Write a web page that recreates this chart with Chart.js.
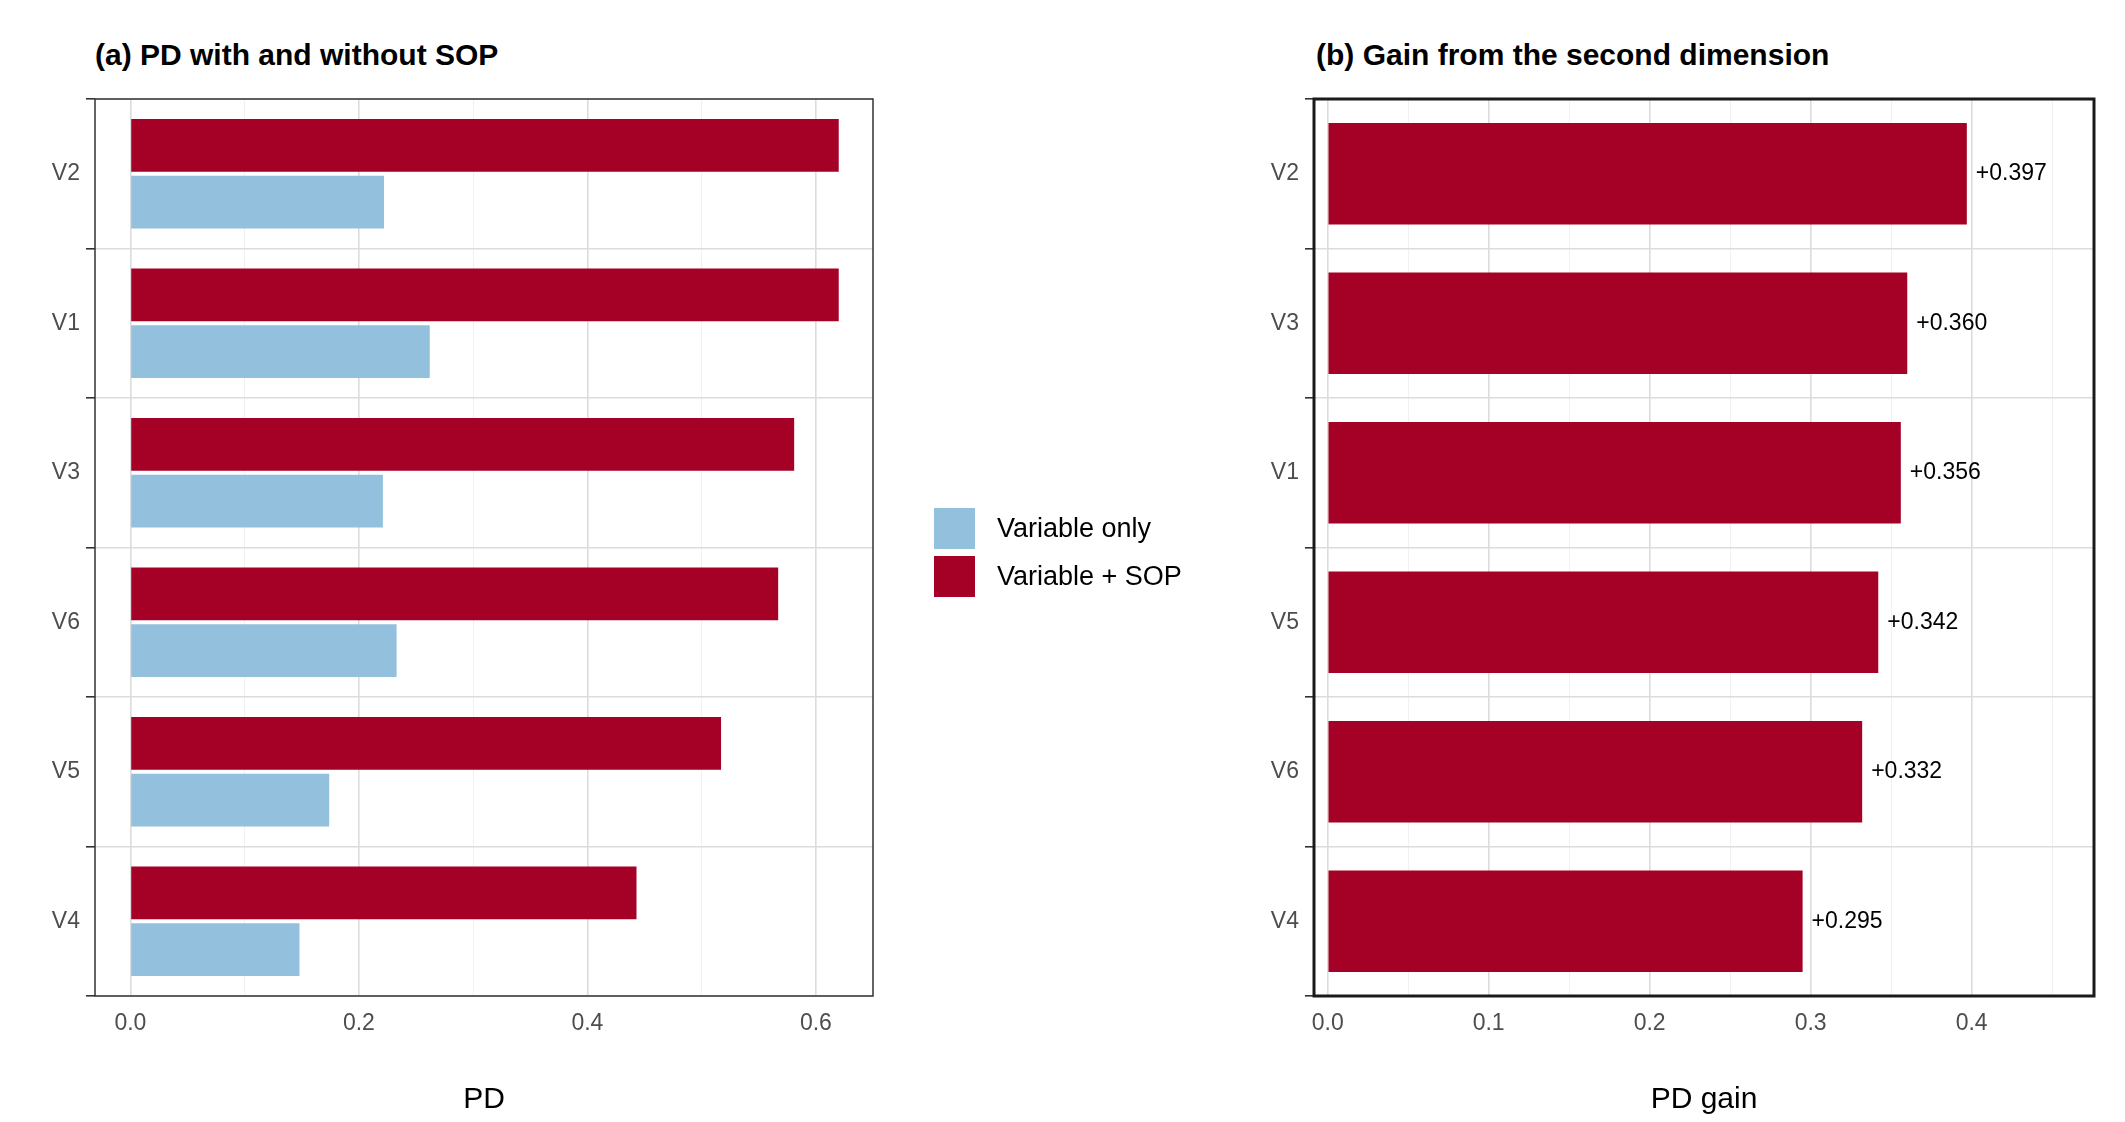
<!DOCTYPE html>
<html>
<head>
<meta charset="utf-8">
<script src="https://cdn.jsdelivr.net/npm/chart.js@4"></script>
<style>
  body { margin: 0; background: #fff; font-family: "Liberation Sans", Arial, sans-serif; }
  .wrap { position: relative; width: 2125px; height: 1122px; }
  .title { position: absolute; top: 38px; font-weight: bold; font-size: 30px; color: #000; }
  #legend { position: absolute; left: 934px; top: 504px; font-size: 27px; color: #000; }
  .item { display: flex; align-items: center; height: 48px; }
  .sw { width: 41px; height: 41px; margin-right: 22px; }
</style>
</head>
<body>
<div class="wrap">
  <div class="title" style="left:95px">(a) PD with and without SOP</div>
  <div class="title" style="left:1316px">(b) Gain from the second dimension</div>
  <div style="position:absolute;left:0;top:0;width:900px;height:1122px"><canvas id="chartA"></canvas></div>
  <div style="position:absolute;left:900px;top:0;width:1225px;height:1122px"><canvas id="chartB"></canvas></div>
  <div id="legend">
    <div class="item"><div class="sw" style="background:#92c0dd"></div>Variable only</div>
    <div class="item"><div class="sw" style="background:#a50026"></div>Variable + SOP</div>
  </div>
</div>
<script>
// panel (a) data
var varsA = ["V2", "V1", "V3", "V6", "V5", "V4"];
var pdOnly = [0.222, 0.262, 0.221, 0.233, 0.174, 0.148];
var pdSop = [0.620, 0.620, 0.581, 0.567, 0.517, 0.443];
var ticksA = [0, 0.1, 0.2, 0.3, 0.4, 0.5, 0.6];

// panel (b) data
var varsB = ["V2", "V3", "V1", "V5", "V6", "V4"];
var gain = [0.397, 0.360, 0.356, 0.342, 0.332, 0.295];
var gainLabels = ["+0.397", "+0.360", "+0.356", "+0.342", "+0.332", "+0.295"];
var ticksB = [0, 0.05, 0.1, 0.15, 0.2, 0.25, 0.3, 0.35, 0.4, 0.45];

var FONT = "'Liberation Sans', Arial, sans-serif";
var RED = "#a50026";
var BLUE = "#92c0dd";

function isMajor(v, step) {
  return Math.abs(v / step - Math.round(v / step)) < 1e-6;
}

// draws the panel border like ggplot's theme_bw
function borderPlugin(color, width) {
  return {
    id: "panelBorder",
    afterDraw: function (chart) {
      var a = chart.chartArea, c = chart.ctx;
      c.save();
      c.strokeStyle = color;
      c.lineWidth = width;
      c.strokeRect(a.left, a.top, a.right - a.left, a.bottom - a.top);
      c.restore();
    }
  };
}

function xScale(min, max, tickVals, majorStep, title) {
  return {
    type: "linear",
    min: min,
    max: max,
    afterBuildTicks: function (s) { s.ticks = tickVals.map(function (v) { return { value: v }; }); },
    afterFit: function (s) { s.height = 126; },
    grid: {
      color: function (ctx) { return isMajor(ctx.tick.value, majorStep) ? "#dcdcdc" : "#efefef"; },
      lineWidth: function (ctx) { return isMajor(ctx.tick.value, majorStep) ? 1.6 : 0.9; },
      drawTicks: false
    },
    border: { display: false },
    ticks: {
      padding: 14,
      color: "#4d4d4d",
      font: { family: FONT, size: 23 },
      callback: function (v) { return isMajor(v, majorStep) ? v.toFixed(1) : ""; }
    },
    title: { display: true, text: title, color: "#000", font: { family: FONT, size: 30 }, padding: { top: 2 } }
  };
}

function yScale() {
  return {
    afterFit: function (s) { s.width = 95; },
    grid: { color: "#dcdcdc", lineWidth: 1.6, tickLength: 9, tickColor: "#333" },
    border: { display: false },
    ticks: { color: "#4d4d4d", font: { family: FONT, size: 23 }, padding: 6 }
  };
}

new Chart(document.getElementById("chartA"), {
  type: "bar",
  data: {
    labels: varsA,
    datasets: [
      { label: "Variable + SOP", data: pdSop, backgroundColor: RED, barPercentage: 0.93, categoryPercentage: 0.76 },
      { label: "Variable only", data: pdOnly, backgroundColor: BLUE, barPercentage: 0.93, categoryPercentage: 0.76 }
    ]
  },
  options: {
    indexAxis: "y",
    responsive: true,
    maintainAspectRatio: false,
    animation: false,
    layout: { padding: { top: 99, right: 27, left: 0, bottom: 0 } },
    plugins: { legend: { display: false }, tooltip: { enabled: false } },
    scales: { x: xScale(-0.031, 0.65, ticksA, 0.2, "PD"), y: yScale() }
  },
  plugins: [borderPlugin("#333", 1.5)]
});

// value labels next to the gain bars
var gainLabelPlugin = {
  id: "gainLabels",
  afterDatasetsDraw: function (chart) {
    var c = chart.ctx, meta = chart.getDatasetMeta(0);
    c.save();
    c.fillStyle = "#000";
    c.font = "23px " + FONT;
    c.textBaseline = "middle";
    meta.data.forEach(function (bar, i) {
      c.fillText(gainLabels[i], bar.x + 9, bar.y);
    });
    c.restore();
  }
};

new Chart(document.getElementById("chartB"), {
  type: "bar",
  data: {
    labels: varsB,
    datasets: [
      { label: "PD gain", data: gain, backgroundColor: RED, barPercentage: 1, categoryPercentage: 0.68 }
    ]
  },
  options: {
    indexAxis: "y",
    responsive: true,
    maintainAspectRatio: false,
    animation: false,
    layout: { padding: { top: 99, right: 31, left: 319, bottom: 0 } },
    plugins: { legend: { display: false }, tooltip: { enabled: false } },
    scales: { x: xScale(-0.0085, 0.476, ticksB, 0.1, "PD gain"), y: yScale() }
  },
  plugins: [gainLabelPlugin, borderPlugin("#1a1a1a", 3)]
});
</script>
</body>
</html>
